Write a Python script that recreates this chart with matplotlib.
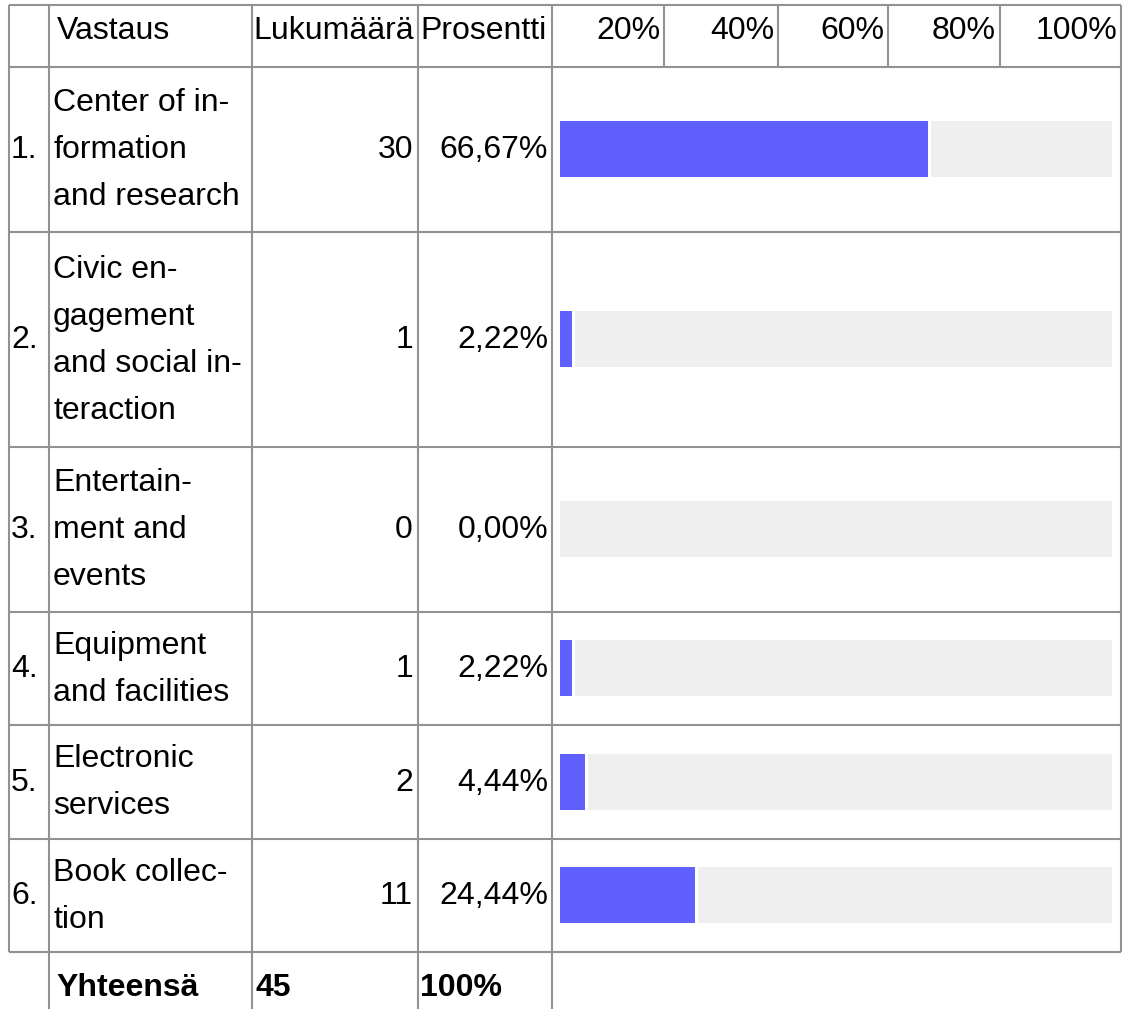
import matplotlib
matplotlib.use("Agg")
import matplotlib.pyplot as plt

# table content
header = ["Vastaus", "Lukumäärä", "Prosentti"]
scale_labels = ["20%", "40%", "60%", "80%", "100%"]
answers = [
    ["Center of in-", "formation", "and research"],
    ["Civic en-", "gagement", "and social in-", "teraction"],
    ["Entertain-", "ment and", "events"],
    ["Equipment", "and facilities"],
    ["Electronic", "services"],
    ["Book collec-", "tion"],
]
counts = [30, 1, 0, 1, 2, 11]
percent_labels = ["66,67%", "2,22%", "0,00%", "2,22%", "4,44%", "24,44%"]
percents = [66.67, 2.22, 0.0, 2.22, 4.44, 24.44]
total_label = "Yhteensä"
total_count = "45"
total_percent = "100%"

W, H = 1130, 1009
plt.rcParams['font.family'] = ['Liberation Sans', 'DejaVu Sans']
FS = 23
LINE = '#929292'
LW = 1.5

fig = plt.figure(figsize=(W / 100, H / 100), dpi=100)
ax = fig.add_axes([0, 0, 1, 1])
ax.set_xlim(0, W)
ax.set_ylim(H, 0)
ax.axis('off')

# column edges (pixels)
x_left, x_num, x_ans, x_cnt, x_pct, x_right = 9, 49, 252, 418, 552, 1121
scale_edges = [552, 664, 778, 888, 1000, 1121]
top, head_bot = 5, 67
line_h, pad = 51, 11.5

# row edges from the number of text lines
edges = [head_bot]
for a in answers:
    edges.append(edges[-1] + len(a) * line_h + pad)
bottom = edges[-1]

# grid
for y in [top] + edges:
    ax.hlines(y, x_left, x_right, color=LINE, lw=LW)
ax.vlines([x_left, x_right], top, bottom, color=LINE, lw=LW)
ax.vlines([x_num, x_ans, x_cnt, x_pct], top, H, color=LINE, lw=LW)
ax.vlines(scale_edges[1:-1], top, head_bot, color=LINE, lw=LW)

# header
hb = 39
ax.text(x_num + 8, hb, header[0], fontsize=FS, va='baseline', ha='left')
ax.text(x_ans + 1, hb, header[1], fontsize=FS, va='baseline', ha='left')
ax.text(x_cnt + 2, hb, header[2], fontsize=FS, va='baseline', ha='left')
for lab, xr in zip(scale_labels, scale_edges[1:]):
    ax.text(xr - 4, hb, lab, fontsize=FS, va='baseline', ha='right')

# rows
centers = []
spacing = 47
for i, lines in enumerate(answers):
    yc = (edges[i] + edges[i + 1]) / 2 - 2
    centers.append((edges[i] + edges[i + 1]) / 2)
    n = len(lines)
    for k, t in enumerate(lines):
        y = yc + (k - (n - 1) / 2) * spacing + 11
        ax.text(x_num + 4, y, t, fontsize=FS, va='baseline', ha='left')
    ax.text(x_left + 2, yc + 11, f"{i + 1}.", fontsize=FS, va='baseline', ha='left')
    ax.text(x_cnt - 5, yc + 11, str(counts[i]), fontsize=FS, va='baseline', ha='right')
    ax.text(x_pct - 4, yc + 11, percent_labels[i], fontsize=FS, va='baseline', ha='right')

# total row
tb = 996
ax.text(x_num + 7, tb, total_label, fontsize=FS, fontweight='bold', va='baseline', ha='left')
ax.text(x_ans + 4, tb, total_count, fontsize=FS, fontweight='bold', va='baseline', ha='left')
ax.text(x_cnt + 2, tb, total_percent, fontsize=FS, fontweight='bold', va='baseline', ha='left')

# bars
bx0, bx1 = 560, 1112
bax = fig.add_axes([bx0 / W, 0, (bx1 - bx0) / W, 1])
bax.set_xlim(0, 100)
bax.set_ylim(H, 0)
bax.axis('off')
gap = 3 / (bx1 - bx0) * 100
for yc, p in zip(centers, percents):
    start = p + gap if p > 0 else 0
    bax.barh(yc, 100 - start, left=start, height=56, color='#efefef', lw=0)
    if p > 0:
        bax.barh(yc, p, height=56, color='#6060ff', lw=0)

fig.savefig('out.png', dpi=100)
